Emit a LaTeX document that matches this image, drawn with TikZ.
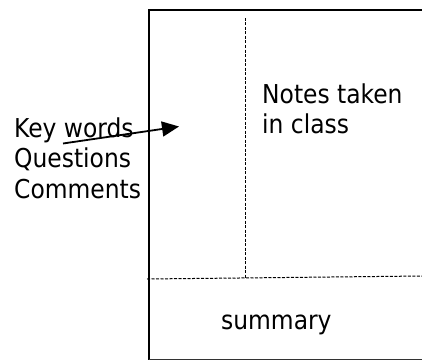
\documentclass[tikz,border=0pt]{standalone}
\usepackage{fontspec}
\setmainfont{DejaVu Sans Condensed}
\usetikzlibrary{arrows.meta}
\begin{document}
\begin{tikzpicture}[x=1pt,y=-1pt,
  label text/.style={inner sep=0pt,anchor=base west,align=left,
    font=\fontsize{26}{30.5}\selectfont},
  frame line/.style={line width=1.8pt,line cap=rect},
  divider/.style={line width=1pt,dash pattern=on 3pt off 1.5pt,black},
  pointer/.style={line width=1.8pt,-{Triangle[length=17pt,width=15pt]}}]
  \useasboundingbox (0,0) rectangle (422,361);
  % page frame (right side runs off the sheet)
  \coordinate (tl) at (149,10);
  \coordinate (tr) at (423,10);
  \coordinate (bl) at (149,359.5);
  \coordinate (br) at (423,359.5);
  \draw[frame line] (tr) -- (tl) -- (bl);
  \draw[line width=1pt,black!80] (bl) -- (br);
  % cue column and summary dividers
  \coordinate (vtop) at (245,18);
  \coordinate (vbot) at (245,278);
  \coordinate (hl) at (147,279);
  \coordinate (hr) at (423,276);
  \draw[divider] (vtop) -- (vbot);
  \draw[divider] (hl) -- (hr);
  % texts (base anchor sits on the last line)
  \node[label text] (cues) at (14,198) {Key words\\Questions\\Comments};
  \node[label text] (notes) at (262,133.5) {Notes taken\\in class};
  \node[label text] (summary) at (221,329) {summary};
  % pointer into the cue column
  \coordinate (ptail) at (63,143.5);
  \coordinate (ptip) at (179,126.5);
  \draw[pointer] (ptail) -- (ptip);
\end{tikzpicture}
\end{document}
